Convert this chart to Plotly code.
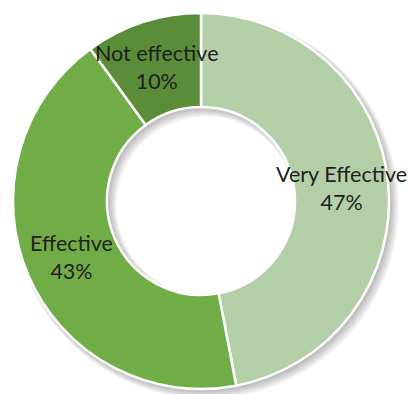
import numpy as np
import plotly.graph_objects as go

# Survey responses: perceived effectiveness
categories = ["Very Effective", "Effective", "Not effective"]
shares = [47, 43, 10]
colors = ["#b4cfa7", "#70ad47", "#5a8c3a"]

W, H = 408, 394
CX, CY, R = 201, 201, 188      # donut centre / outer radius in pixels
HOLE = 0.5


def to_paper(px, py):
    return px / W, 1 - py / H


def ring_path(cx, cy, r_out, r_in, n=180):
    t = np.linspace(0, 2 * np.pi, n, endpoint=False)
    parts = []
    for r, sgn in ((r_out, 1), (r_in, -1)):
        pts = [to_paper(cx + r * np.cos(sgn * a), cy + r * np.sin(sgn * a)) for a in t]
        parts.append("M " + " L ".join(f"{x:.5f},{y:.5f}" for x, y in pts) + " Z")
    return " ".join(parts)


fig = go.Figure()

# soft drop shadow built from a few faint offset rings
for k in range(6):
    off = 1.5 + k * 0.7
    spread = k * 0.9
    fig.add_shape(
        type="path", xref="paper", yref="paper", layer="below",
        path=ring_path(CX + off, CY + off, R + spread, R * HOLE - spread),
        fillcolor="rgba(0,0,0,0.05)", line=dict(width=0), fillrule="evenodd",
    )

fig.add_trace(go.Pie(
    labels=categories, values=shares, hole=HOLE,
    sort=False, direction="clockwise", rotation=0,
    marker=dict(colors=colors, line=dict(color="white", width=2.5)),
    textinfo="none", hoverinfo="label+percent", showlegend=False,
    domain=dict(x=[(CX - R) / W, (CX + R) / W],
                y=[1 - (CY + R) / H, 1 - (CY - R) / H]),
))

# data labels at the middle of each ring segment
total = float(sum(shares))
start = 0.0
r_lab = R * (1 + HOLE) / 2
for name, v in zip(categories, shares):
    mid = np.deg2rad((start + v / 2) / total * 360)
    start += v
    x, y = to_paper(CX + r_lab * np.sin(mid), CY - r_lab * np.cos(mid))
    fig.add_annotation(
        x=x, y=y, xref="paper", yref="paper",
        xanchor="center", yanchor="middle",
        text=f"{name}<br>{round(v / total * 100)}%",
        showarrow=False, align="center",
        font=dict(family="Lato", size=21.5, color="#1f1f1f"),
    )

fig.update_layout(
    width=W, height=H,
    margin=dict(l=0, r=0, t=0, b=0),
    paper_bgcolor="white", plot_bgcolor="white",
)

fig.write_html("out.html")
